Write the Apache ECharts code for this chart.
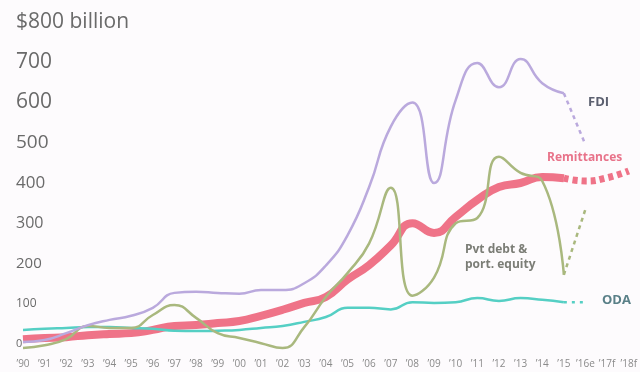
<!DOCTYPE html>
<html lang="en">

<head>
    <meta charset="UTF-8">
    <title>Financial flows</title>
    <style>
        * {
            margin: 0;
            padding: 0;
        }

        #main {
            width: 640px;
            height: 372px;
        }
    </style>
</head>
<script src="https://cdn.jsdelivr.net/npm/echarts@6/dist/echarts.min.js"></script>

<body>
    <div id="main"></div>
    <script>
        // x categories, 1990 - 2018 (e = estimate, f = forecast)
        var years = ['’90', '’91', '’92', '’93', '’94', '’95', '’96', '’97', '’98', '’99',
            '’00', '’01', '’02', '’03', '’04', '’05', '’06', '’07', '’08', '’09',
            '’10', '’11', '’12', '’13', '’14', '’15', '’16e', '’17f', '’18f'];
        var yTicks = [0, 100, 200, 300, 400, 500, 600, 700, 800];

        // actuals 1990 - 2015, $ billion
        var fdi = [5, 10, 27, 47, 60, 70, 90, 127, 130, 127, 125, 134, 134, 151, 195, 270, 390, 540, 600, 400, 606, 698, 638, 708, 648, 623];
        var remit = [12, 15, 17, 22, 25, 27, 35, 45, 47, 52, 57, 70, 85, 102, 117, 160, 196, 245, 300, 276, 316, 358, 390, 400, 415, 412];
        var pvt = [-10, -3, 12, 45, 40, 40, 72, 97, 65, 27, 15, 2, -10, 42, 117, 176, 250, 388, 120, 165, 300, 313, 465, 425, 405, 172];
        var oda = [35, 38, 40, 42, 42, 40, 38, 33, 32, 33, 35, 40, 45, 55, 67, 90, 90, 86, 104, 102, 104, 114, 107, 114, 110, 104];

        // estimates / forecasts from 2015 on
        var fdiF = [623, 495];
        var remitF = [412, 405, 413, 430];
        var pvtF = [172, 335];
        var odaF = [104, 104];

        // pad a forecast array so it starts at 2015
        function tail(arr) {
            var out = [];
            for (var i = 0; i < 25; i++) out.push(null);
            return out.concat(arr);
        }

        var labelSize = { 0: 11, 100: 12, 200: 15, 300: 16, 400: 17, 500: 19, 600: 21, 700: 21, 800: 21 };
        var rich = {};
        yTicks.forEach(function (v) {
            rich['s' + v] = { fontSize: labelSize[v], color: '#6a6a6a', fontFamily: 'Open Sans' };
        });

        var chartDom = document.getElementById('main');
        var myChart = echarts.init(chartDom);
        var option;

        var purple = '#baa9dd';
        var pink = '#ef7388';
        var green = '#a9b87e';
        var teal = '#55cfc4';

        option = {
            backgroundColor: '#fdfbfd',
            animation: false,
            grid: {
                left: 23,
                right: 1,
                top: 22,
                bottom: 28
            },
            xAxis: {
                type: 'category',
                data: years,
                boundaryGap: false,
                axisLine: { show: false },
                axisTick: { show: false },
                axisLabel: {
                    interval: 0,
                    margin: 15,
                    fontSize: 10,
                    color: '#8a8a8a',
                    fontFamily: 'Open Sans'
                },
                splitLine: { show: false }
            },
            yAxis: {
                type: 'value',
                min: 0,
                max: 800,
                interval: 100,
                axisLine: { show: false },
                axisTick: { show: false },
                splitLine: { show: false },
                axisLabel: {
                    align: 'left',
                    margin: 7,
                    formatter: function (v) {
                        var txt = v === 800 ? '$800 billion' : String(v);
                        return '{s' + v + '|' + txt + '}';
                    },
                    rich: rich
                }
            },
            series: [
                {
                    name: 'Remittances',
                    type: 'line',
                    data: remit,
                    smooth: 0.5,
                    symbol: 'none',
                    clip: false,
                    lineStyle: { color: pink, width: 8 }
                },
                {
                    name: 'Remittances f',
                    type: 'line',
                    data: tail(remitF),
                    smooth: 0.5,
                    symbol: 'none',
                    clip: false,
                    lineStyle: { color: pink, width: 7, type: [5, 4] }
                },
                {
                    name: 'ODA',
                    type: 'line',
                    data: oda,
                    smooth: 0.5,
                    symbol: 'none',
                    clip: false,
                    lineStyle: { color: teal, width: 2.5 }
                },
                {
                    name: 'ODA f',
                    type: 'line',
                    data: tail(odaF),
                    symbol: 'none',
                    clip: false,
                    lineStyle: { color: teal, width: 2.5, type: [3, 5] }
                },
                {
                    name: 'Pvt debt & port. equity',
                    type: 'line',
                    data: pvt,
                    smooth: 0.5,
                    symbol: 'none',
                    clip: false,
                    lineStyle: { color: green, width: 2.5 }
                },
                {
                    name: 'Pvt f',
                    type: 'line',
                    data: tail(pvtF),
                    symbol: 'none',
                    clip: false,
                    lineStyle: { color: green, width: 2.5, type: [4, 4] }
                },
                {
                    name: 'FDI',
                    type: 'line',
                    data: fdi,
                    smooth: 0.5,
                    symbol: 'none',
                    clip: false,
                    lineStyle: { color: purple, width: 2.5 }
                },
                {
                    name: 'FDI f',
                    type: 'line',
                    data: tail(fdiF),
                    symbol: 'none',
                    clip: false,
                    lineStyle: { color: purple, width: 2.5, type: [4, 4] }
                }
            ],
            // series names written beside the lines
            graphic: [
                {
                    type: 'text', left: 588, top: 96,
                    style: { text: 'FDI', fill: '#5c6070', font: 'bold 13px "Open Sans"' }
                },
                {
                    type: 'text', left: 547, top: 152,
                    style: { text: 'Remittances', fill: '#e8738a', font: 'bold 12px "Open Sans"' }
                },
                {
                    type: 'text', left: 465, top: 242,
                    style: { text: 'Pvt debt &\nport. equity', fill: '#7b7d76', font: 'bold 12px "Open Sans"', lineHeight: 15 }
                },
                {
                    type: 'text', left: 602, top: 294,
                    style: { text: 'ODA', fill: '#5a8088', font: 'bold 13px "Open Sans"' }
                }
            ]
        };
        option && myChart.setOption(option);
    </script>
</body>

</html>
